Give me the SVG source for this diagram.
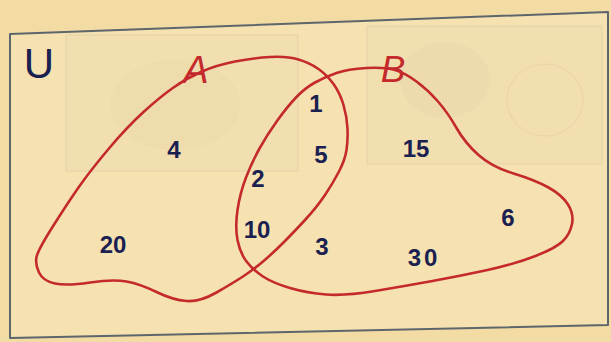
<svg xmlns="http://www.w3.org/2000/svg" width="611" height="342" viewBox="0 0 611 342">
  <style>
    .frame { fill: #f6e2b1; stroke: #5d666c; stroke-width: 2; stroke-linejoin: round; }
    .ghost { fill: #9a9a92; fill-opacity: 0.035; stroke: #a8a69a; stroke-opacity: 0.15; stroke-width: 1.5; }
    .set { fill: none; stroke: #c42a2c; stroke-width: 2.6; stroke-linejoin: round; stroke-linecap: round; }
    .setlabel { font-family: "Liberation Sans", Arial, sans-serif; font-style: italic; fill: #c42a2c; text-anchor: middle; }
    .num { font-family: "Liberation Sans", Arial, sans-serif; font-size: 24px; font-weight: bold; fill: #1a2150; text-anchor: middle; }
    .univ { font-family: "Liberation Sans", Arial, sans-serif; font-size: 42px; fill: #1a2150; text-anchor: middle; }
  </style>
  <rect x="0" y="0" width="611" height="342" fill="#f3dba4"/>
  <g id="universe">
    <polygon class="frame" points="10,34 608,12 608,325 10,338"/>
    <g id="show-through">
      <rect class="ghost" x="66" y="35" width="232" height="136"/>
      <ellipse cx="175" cy="105" rx="65" ry="45" fill="#8a8a84" fill-opacity="0.035"/>
      <rect class="ghost" x="367" y="26" width="235" height="138"/>
      <ellipse cx="445" cy="80" rx="45" ry="38" fill="#8a8a84" fill-opacity="0.045"/>
      <ellipse cx="545" cy="100" rx="38" ry="36" fill="none" stroke="#d9a08a" stroke-opacity="0.15" stroke-width="1.5"/>
    </g>
    <text class="univ" x="39" y="78">U</text>
  </g>
  <g id="connectors"></g>
  <g id="set-A">
    <path class="set" d="M 36.5,257 Q 38,250 52.5,227 Q 67,204 78.5,187.5 Q 90,171 108.5,149 Q 127,127 143.5,112 Q 160,97 173.5,87.5 Q 187,78 202,71.5 Q 217,65 235,61.5 Q 253,58 270,57 Q 287,56 298.5,59.5 Q 310,63 318.5,69 Q 327,75 333.5,84 Q 340,93 343.5,105 Q 347,117 347.5,128.5 Q 348,140 346.5,150 Q 345,160 339,171.5 Q 333,183 325,195 Q 317,207 305,220 Q 293,233 283,243 Q 273,253 263,261.5 Q 253,270 243,276.5 Q 233,283 216.5,292.5 Q 200,302 186.5,301 Q 173,300 156.5,292 Q 140,284 126.5,281.5 Q 113,279 90,282.5 Q 67,286 55,283.5 Q 43,281 39,272.5 Q 35,264 36.5,257 Z"/>
    <text class="setlabel" x="196" y="83" font-size="38">A</text>
  </g>
  <g id="set-B">
    <path class="set" d="M 315,82.5 Q 325,77 336.5,73 Q 348,69 366.5,68 Q 385,67 395,70 Q 405,73 416.5,81.5 Q 428,90 438,101.5 Q 448,113 456.5,128 Q 465,143 478.5,155 Q 492,167 513.5,173.5 Q 535,180 548.5,187.5 Q 562,195 568,204.5 Q 574,214 572,224 Q 570,234 563,241 Q 556,248 535.5,256 Q 515,264 487.5,270 Q 460,276 432.5,281 Q 405,286 375,291 Q 345,296 326,294.5 Q 307,293 290,288 Q 273,283 263,276.5 Q 253,270 246.5,261.5 Q 240,253 237.5,240 Q 235,227 237.5,210 Q 240,193 246,177.5 Q 252,162 259.5,148.5 Q 267,135 277,121 Q 287,107 296,97.5 Q 305,88 315,82.5 Z"/>
    <text class="setlabel" x="393" y="82" font-size="37">B</text>
  </g>
  <g id="region-values">
    <text class="num" x="174" y="158">4</text>
    <text class="num" x="113" y="253">20</text>
    <text class="num" x="316" y="112">1</text>
    <text class="num" x="321" y="163">5</text>
    <text class="num" x="258" y="187">2</text>
    <text class="num" x="257" y="238">10</text>
    <text class="num" x="322" y="255">3</text>
    <text class="num" x="416" y="157">15</text>
    <text class="num" x="508" y="226">6</text>
    <text class="num" x="424" y="266" letter-spacing="3">30</text>
  </g>
</svg>
